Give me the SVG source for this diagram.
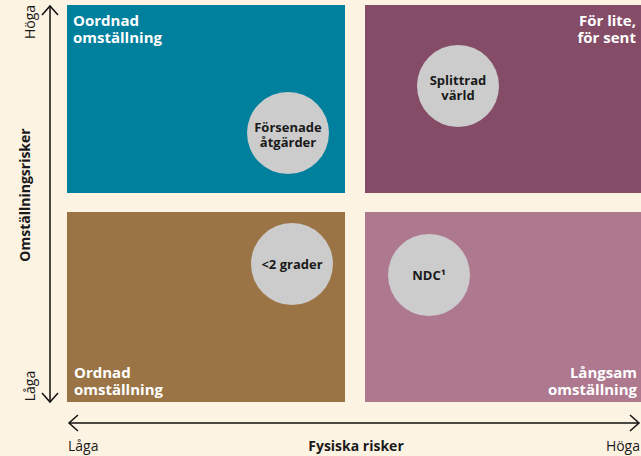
<svg xmlns="http://www.w3.org/2000/svg" width="641" height="456" viewBox="0 0 641 456">
<style>
.q{stroke:none}
.ql{font-family:"Open Sans","Noto Sans","Liberation Sans",sans-serif;font-weight:700;font-size:15px;fill:#FFFFFF}
.cl{font-family:"Open Sans","Noto Sans","Liberation Sans",sans-serif;font-weight:700;font-size:13px;fill:#1a1a1a;text-anchor:middle}
.ax{font-family:"Open Sans","Noto Sans","Liberation Sans",sans-serif;font-size:14px;fill:#1a1a1a}
.axb{font-family:"Open Sans","Noto Sans","Liberation Sans",sans-serif;font-size:14px;font-weight:700;fill:#1a1a1a;text-anchor:middle}
.circ{fill:#CCCCCC}
.ln{stroke:#111;stroke-width:1.5;fill:none}
</style>
<rect width="641" height="456" fill="#FDF3E3"/>
<g id="q-top-left">
<rect class="q" x="67" y="5" width="278" height="188" fill="#00809D"/>
<text class="ql" x="73" y="26">Oordnad</text>
<text class="ql" x="73" y="43">omställning</text>
</g>
<g id="q-top-right">
<rect class="q" x="365" y="5" width="276" height="188" fill="#854C67"/>
<text class="ql" x="636" y="26" text-anchor="end">För lite,</text>
<text class="ql" x="636" y="43" text-anchor="end">för sent</text>
</g>
<g id="q-bottom-left">
<rect class="q" x="67" y="212" width="278" height="190" fill="#9A7444"/>
<text class="ql" x="74" y="378">Ordnad</text>
<text class="ql" x="74" y="395">omställning</text>
</g>
<g id="q-bottom-right">
<rect class="q" x="365" y="212" width="276" height="190" fill="#AE788F"/>
<text class="ql" x="637" y="378" text-anchor="end">Långsam</text>
<text class="ql" x="637" y="395" text-anchor="end">omställning</text>
</g>
<g id="n-forsenade">
<circle class="circ" cx="288" cy="133" r="41"/>
<text class="cl" x="288" y="132">Försenade</text>
<text class="cl" x="288" y="147">åtgärder</text>
</g>
<g id="n-splittrad">
<circle class="circ" cx="458" cy="86" r="41"/>
<text class="cl" x="458" y="85">Splittrad</text>
<text class="cl" x="458" y="100">värld</text>
</g>
<g id="n-2grader">
<circle class="circ" cx="292" cy="264" r="41"/>
<text class="cl" x="292" y="269">&lt;2 grader</text>
</g>
<g id="n-ndc">
<circle class="circ" cx="429" cy="275" r="41"/>
<text class="cl" x="429" y="280">NDC¹</text>
</g>
<g id="connectors">
<line class="ln" x1="50" y1="6" x2="50" y2="402"/>
<polyline class="ln" points="42,15 50,6 58,15"/>
<polyline class="ln" points="42,393 50,402 58,393"/>
<line class="ln" x1="69" y1="423" x2="639" y2="423"/>
<polyline class="ln" points="78,415 69,423 78,431"/>
<polyline class="ln" points="630,415 639,423 630,431"/>
</g>
<g id="axis-labels">
<text class="ax" transform="translate(35,22) rotate(-90)" text-anchor="middle">Höga</text>
<text class="ax" transform="translate(35,386) rotate(-90)" text-anchor="middle">Låga</text>
<text class="axb" transform="translate(30,195) rotate(-90)">Omställningsrisker</text>
<text class="ax" x="68" y="451">Låga</text>
<text class="axb" x="356" y="451">Fysiska risker</text>
<text class="ax" x="640" y="451" text-anchor="end">Höga</text>
</g>
</svg>
